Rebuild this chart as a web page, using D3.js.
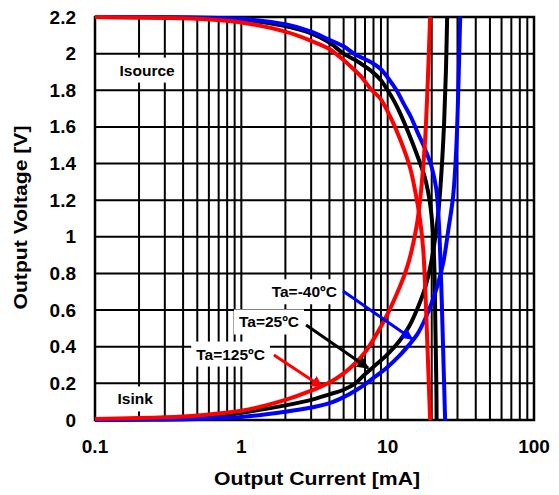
<!DOCTYPE html>
<html>
<head>
<meta charset="utf-8">
<script src="https://cdn.jsdelivr.net/npm/d3@7"></script>
<style>
  body { margin: 0; background: #fff; }
  text { font-family: "Liberation Sans", Arial, sans-serif; font-weight: bold; fill: #000; }
</style>
</head>
<body>
<svg id="chart" width="559" height="495"></svg>
<script>
// Axis ticks
const xTicks = [0.1, 1, 10, 100];
const xTickLabels = ["0.1", "1", "10", "100"];
const yTicks = [0, 0.2, 0.4, 0.6, 0.8, 1, 1.2, 1.4, 1.6, 1.8, 2, 2.2];
const yTickLabels = ["0", "0.2", "0.4", "0.6", "0.8", "1", "1.2", "1.4", "1.6", "1.8", "2", "2.2"];

// Output characteristics: [current mA, voltage V]
// Source (high side) curves
const source125 = [[0.1, 2.2], [0.5, 2.19], [1, 2.17], [2, 2.12], [3, 2.07], [4, 2.025], [4.5, 1.995],
  [5, 1.965], [5.5, 1.935], [6.5, 1.88], [7.8, 1.8], [8.9, 1.755], [10.5, 1.65], [12.2, 1.53], [14.2, 1.38],
  [15.5, 1.24], [16.6, 1.1], [17.5, 0.93], [18.1, 0.7], [18.7, 0.4], [19.2, 0.15], [19.5, 0]];
const source25 = [[0.1, 2.2], [0.5, 2.195], [1, 2.185], [2, 2.15], [3, 2.11], [4, 2.06], [5, 2.0], [6, 1.965],
  [7, 1.93], [8, 1.895], [9, 1.855], [10, 1.8], [11, 1.745], [12, 1.685], [14, 1.56], [16, 1.44], [18, 1.32],
  [19.5, 1.18], [20.4, 1.02], [20.9, 0.8], [21.2, 0.5], [21.5, 0.2], [21.6, 0]];
const sourceM40 = [[0.1, 2.2], [0.5, 2.197], [1, 2.19], [2, 2.16], [3, 2.12], [4, 2.075], [5, 2.04], [6, 1.995],
  [7, 1.97], [8, 1.945], [9, 1.915], [10, 1.87], [11.5, 1.8], [13, 1.72], [14.5, 1.65], [16, 1.57], [18, 1.48],
  [20, 1.38], [21.5, 1.26], [22.3, 1.1], [22.8, 0.93], [23.4, 0.66], [24.1, 0.3], [24.7, 0]];

// Sink (low side) curves
const sink125 = [[0.1, 0.005], [0.3, 0.015], [0.5, 0.025], [1, 0.05], [2, 0.11], [3, 0.16], [4, 0.205],
  [5, 0.255], [6, 0.31], [7, 0.37], [8, 0.44], [9, 0.51], [10, 0.58], [11, 0.65], [12, 0.72], [13, 0.79],
  [14, 0.87], [15, 0.97], [16, 1.09], [17, 1.27], [18, 1.52], [18.8, 1.85], [19.5, 2.2]];
const sink25 = [[0.1, 0.0], [0.5, 0.015], [1, 0.04], [2, 0.08], [3, 0.11], [4, 0.14], [5, 0.165], [6, 0.2],
  [7, 0.25], [8, 0.29], [10, 0.36], [12, 0.43], [14, 0.51], [16, 0.61], [18, 0.72], [19.5, 0.83], [21, 0.98],
  [22.3, 1.15], [23.3, 1.35], [24.3, 1.62], [25, 1.9], [25.5, 2.2]];
const sinkM40 = [[0.1, 0.0], [0.3, 0.002], [0.5, 0.006], [1, 0.016], [2, 0.045], [3, 0.068], [4, 0.092],
  [5, 0.125], [6, 0.16], [7, 0.195], [8, 0.23], [9, 0.26], [10, 0.29], [12, 0.35], [14, 0.41], [16, 0.47],
  [18, 0.55], [20, 0.64], [22, 0.74], [24, 0.86], [26, 1.04], [28, 1.22], [29.5, 1.5], [30.5, 1.85], [31.3, 2.2]];

// Temperature annotations: label end point and arrow from/to in data units
const tempLabels = ["Ta=-40ºC", "Ta=25ºC", "Ta=125ºC"];
const tempColors = ["#0000ff", "#000000", "#ff0000"];
const labelAnchors = [[4.5, 0.70], [2.48, 0.535], [1.45, 0.36]];
const arrowFrom = [[4.95, 0.704], [2.77, 0.519], [1.67, 0.355]];
const arrowTo = [[14.7, 0.442], [7.35, 0.284], [3.57, 0.18]];

const regionLabels = ["Isource", "Isink"];
const regionAnchors = [[0.227, 1.91], [0.188, 0.115]];

const svg = d3.select("#chart");
const margin = { left: 95, right: 25, top: 17, bottom: 75 };
const W = 559, H = 495;

const x = d3.scaleLog().domain([0.1, 100]).range([margin.left, W - margin.right]);
const y = d3.scaleLinear().domain([0, 2.2]).range([H - margin.bottom, margin.top]);

const defs = svg.append("defs");
defs.append("clipPath").attr("id", "plotClip")
  .append("rect")
  .attr("x", x(0.1)).attr("y", y(2.2) - 3)
  .attr("width", x(100) - x(0.1)).attr("height", y(0) - y(2.2) + 6);

// Grid: every decade subdivision and every 0.2 V
const gridX = [];
[0.1, 1, 10].forEach(d => { for (let k = 1; k <= 9; k++) gridX.push(d * k); });
gridX.push(100);

const grid = svg.append("g");
grid.selectAll("line.vx").data(gridX).join("line")
  .attr("x1", d => x(d)).attr("x2", d => x(d))
  .attr("y1", y(0)).attr("y2", y(2.2))
  .attr("stroke", "#000").attr("stroke-width", 2);
grid.selectAll("line.hy").data(yTicks).join("line")
  .attr("x1", x(0.1)).attr("x2", x(100))
  .attr("y1", d => y(d)).attr("y2", d => y(d))
  .attr("stroke", "#000").attr("stroke-width", 2);
grid.append("rect")
  .attr("x", x(0.1)).attr("y", y(2.2))
  .attr("width", x(100) - x(0.1)).attr("height", y(0) - y(2.2))
  .attr("fill", "none").attr("stroke", "#000").attr("stroke-width", 2.5);

// Text on a white backing box
function boxedText(g, tx, ty, str, anchor) {
  const t = g.append("text").attr("x", tx).attr("y", ty)
    .attr("text-anchor", anchor).attr("dominant-baseline", "central")
    .style("font-size", "15.5px").text(str);
  const b = t.node().getBBox();
  g.insert("rect", "text")
    .attr("x", b.x - 5).attr("y", b.y - 4)
    .attr("width", b.width + 10).attr("height", b.height + 8)
    .attr("fill", "#fff");
}

const labels = svg.append("g");
regionLabels.forEach((s, i) => {
  boxedText(labels.append("g"), x(regionAnchors[i][0]), y(regionAnchors[i][1]), s, "middle");
});

// Curves
const line = d3.line()
  .x(d => x(d[0])).y(d => y(d[1]))
  .curve(d3.curveCatmullRom.alpha(0.5));

const curves = svg.append("g").attr("clip-path", "url(#plotClip)");
const series = [
  { data: source25, color: "#000000" }, { data: sink25, color: "#000000" },
  { data: sourceM40, color: "#0000ff" }, { data: sinkM40, color: "#0000ff" },
  { data: source125, color: "#ff0000" }, { data: sink125, color: "#ff0000" }
];
curves.selectAll("path").data(series).join("path")
  .attr("d", d => line(d.data))
  .attr("fill", "none")
  .attr("stroke", d => d.color)
  .attr("stroke-width", 4)
  .attr("stroke-linejoin", "round");

// Temperature labels and arrows
tempColors.forEach((c, i) => {
  defs.append("marker").attr("id", "arr" + i)
    .attr("viewBox", "0 0 10 10").attr("refX", 9).attr("refY", 5)
    .attr("markerWidth", 4).attr("markerHeight", 4).attr("orient", "auto")
    .append("path").attr("d", "M0,0 L10,5 L0,10 Z").attr("fill", c);
});
tempLabels.forEach((s, i) => {
  boxedText(labels.append("g"), x(labelAnchors[i][0]), y(labelAnchors[i][1]), s, "end");
});
const arrows = svg.append("g");
tempLabels.forEach((s, i) => {
  arrows.append("line")
    .attr("x1", x(arrowFrom[i][0])).attr("y1", y(arrowFrom[i][1]))
    .attr("x2", x(arrowTo[i][0])).attr("y2", y(arrowTo[i][1]))
    .attr("stroke", tempColors[i]).attr("stroke-width", 3)
    .attr("marker-end", "url(#arr" + i + ")");
});

// Tick labels
svg.append("g").selectAll("text").data(xTicks).join("text")
  .attr("x", d => x(d)).attr("y", y(0) + 33)
  .attr("text-anchor", "middle")
  .style("font-size", "19px")
  .text((d, i) => xTickLabels[i]);
svg.append("g").selectAll("text").data(yTicks).join("text")
  .attr("x", x(0.1) - 19).attr("y", d => y(d))
  .attr("text-anchor", "end").attr("dominant-baseline", "central")
  .style("font-size", "19px")
  .text((d, i) => yTickLabels[i]);

// Axis titles
svg.append("text")
  .attr("x", 317).attr("y", 485)
  .attr("text-anchor", "middle")
  .style("font-size", "19px")
  .attr("textLength", 206).attr("lengthAdjust", "spacingAndGlyphs")
  .text("Output Current [mA]");
svg.append("text")
  .attr("transform", `translate(27, ${(y(0) + y(2.2)) / 2 - 1}) rotate(-90)`)
  .attr("text-anchor", "middle")
  .style("font-size", "19px")
  .attr("textLength", 184).attr("lengthAdjust", "spacingAndGlyphs")
  .text("Output Voltage [V]");
</script>
</body>
</html>
